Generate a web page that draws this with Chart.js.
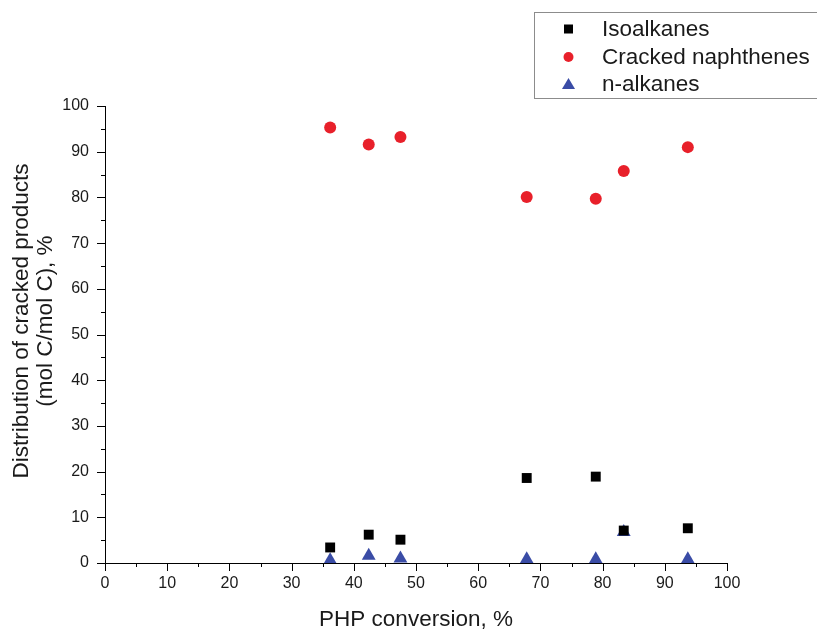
<!DOCTYPE html>
<html>
<head>
<meta charset="utf-8">
<script src="https://cdn.jsdelivr.net/npm/chart.js@4"></script>
<style>
  html, body { margin: 0; padding: 0; background: #fff; }
  #wrap { width: 817px; height: 633px; position: relative; }
</style>
</head>
<body>
<div id="wrap"><canvas id="chart" width="817" height="633"></canvas></div>
<script>
// values
const conversion = [36.2, 42.4, 47.5, 67.8, 78.9, 83.4, 93.7];
const isoalkanes = [3.4, 6.2, 5.1, 18.6, 18.9, 7.1, 7.6];
const crackedNaphthenes = [95.3, 91.6, 93.2, 80.1, 79.7, 85.8, 91.0];
const nAlkanes = [0.6, 1.6, 1.0, 0.8, 0.8, 6.8, 0.8];
const seriesNames = ['Isoalkanes', 'Cracked naphthenes', 'n-alkanes'];
const xTitle = 'PHP conversion, %';
const yTitle = ['Distribution of cracked products', '(mol C/mol C), %'];

const FONT = "'Liberation Sans', Arial, sans-serif";

const toPoints = (ys) => conversion.map((x, i) => ({ x: x, y: ys[i] }));

// major/minor tick marks drawn outward, like the original plot
const tickMarks = {
  id: 'tickMarks',
  afterDraw(chart) {
    const ctx = chart.ctx;
    const xs = chart.scales.x, ys = chart.scales.y;
    const area = chart.chartArea;
    ctx.save();
    ctx.strokeStyle = '#000';
    ctx.lineWidth = 1;
    ctx.beginPath();
    xs.ticks.forEach(t => {
      const px = Math.round(xs.getPixelForValue(t.value)) + 0.5;
      const len = t.value % 10 === 0 ? 8 : 4;
      ctx.moveTo(px, area.bottom);
      ctx.lineTo(px, area.bottom + len);
    });
    ys.ticks.forEach(t => {
      const py = Math.round(ys.getPixelForValue(t.value)) + 0.5;
      const len = t.value % 10 === 0 ? 8 : 4;
      ctx.moveTo(area.left, py);
      ctx.lineTo(area.left - len, py);
    });
    ctx.stroke();
    ctx.restore();
  }
};

// y title sits a bit above the axis middle in the original
const yTitleText = {
  id: 'yTitleText',
  afterDraw(chart) {
    const ctx = chart.ctx;
    ctx.save();
    ctx.translate(0, 321);
    ctx.rotate(-Math.PI / 2);
    ctx.fillStyle = '#1a1a1a';
    ctx.font = '22.5px ' + FONT;
    ctx.textAlign = 'center';
    ctx.textBaseline = 'middle';
    ctx.fillText(yTitle[0], 0, 22);
    ctx.fillText(yTitle[1], 0, 46);
    ctx.restore();
  }
};

// legend box in the top right corner
const boxLegend = {
  id: 'boxLegend',
  afterDraw(chart) {
    const ctx = chart.ctx;
    ctx.save();
    ctx.strokeStyle = '#8c8c8c';
    ctx.lineWidth = 1;
    ctx.strokeRect(534.5, 12.5, 300, 86);
    const rows = [29, 57, 84];
    chart.data.datasets.forEach((ds, i) => {
      const y = rows[i];
      ctx.fillStyle = ds.backgroundColor;
      if (ds.pointStyle === 'rect') {
        ctx.fillRect(564, y - 4.5, 9, 9);
      } else if (ds.pointStyle === 'circle') {
        ctx.beginPath();
        ctx.arc(568.5, y, 5, 0, Math.PI * 2);
        ctx.fill();
      } else {
        ctx.beginPath();
        ctx.moveTo(568.5, y - 6);
        ctx.lineTo(575, y + 5);
        ctx.lineTo(562, y + 5);
        ctx.closePath();
        ctx.fill();
      }
      ctx.fillStyle = '#1a1a1a';
      ctx.font = '22.5px ' + FONT;
      ctx.textBaseline = 'middle';
      ctx.fillText(ds.label, 602, y + 1);
    });
    ctx.restore();
  }
};

new Chart(document.getElementById('chart'), {
  type: 'scatter',
  data: {
    datasets: [
      {
        label: seriesNames[0],
        data: toPoints(isoalkanes),
        pointStyle: 'rect',
        pointRadius: 7,
        backgroundColor: '#000000',
        borderColor: '#000000',
        borderWidth: 0
      },
      {
        label: seriesNames[1],
        data: toPoints(crackedNaphthenes),
        pointStyle: 'circle',
        pointRadius: 6,
        backgroundColor: '#e8202a',
        borderColor: '#e8202a',
        borderWidth: 0
      },
      {
        label: seriesNames[2],
        data: toPoints(nAlkanes),
        pointStyle: 'triangle',
        pointRadius: 8,
        backgroundColor: '#3a4ca6',
        borderColor: '#3a4ca6',
        borderWidth: 0
      }
    ]
  },
  options: {
    responsive: false,
    animation: false,
    layout: { padding: { top: 106, right: 90, left: 0, bottom: 0 } },
    plugins: {
      legend: { display: false },
      tooltip: { enabled: false }
    },
    scales: {
      x: {
        type: 'linear',
        min: 0,
        max: 100,
        afterFit: (s) => { s.height = 70; },
        ticks: {
          stepSize: 5,
          autoSkip: false,
          maxRotation: 0,
          padding: 11,
          color: '#1a1a1a',
          font: { family: FONT, size: 16 },
          callback: (v) => (v % 10 === 0 ? v : '')
        },
        grid: { drawOnChartArea: false, drawTicks: false },
        border: { display: true, color: '#000', width: 1 },
        title: {
          display: true,
          text: xTitle,
          color: '#1a1a1a',
          font: { family: FONT, size: 22.5 },
          padding: { top: 0, bottom: 0 }
        }
      },
      y: {
        type: 'linear',
        min: 0,
        max: 100,
        afterFit: (s) => { s.width = 105; },
        ticks: {
          stepSize: 5,
          autoSkip: false,
          padding: 16,
          color: '#1a1a1a',
          font: { family: FONT, size: 16 },
          callback: (v) => (v % 10 === 0 ? v : '')
        },
        grid: { drawOnChartArea: false, drawTicks: false },
        border: { display: true, color: '#000', width: 1 },
        title: { display: false }
      }
    }
  },
  plugins: [tickMarks, yTitleText, boxLegend]
});
</script>
</body>
</html>
